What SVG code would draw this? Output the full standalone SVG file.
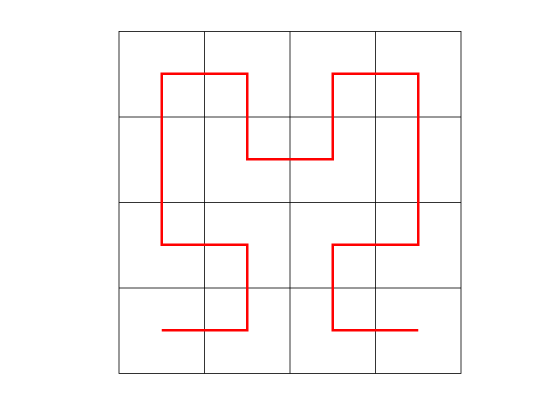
<svg xmlns="http://www.w3.org/2000/svg" width="560" height="420" viewBox="0 0 560 420">
<style>
.grid{stroke:#000;stroke-width:0.8;fill:none}
.curve{stroke:#ff0000;stroke-width:2.5;fill:none;stroke-linejoin:miter}
</style>
<rect width="560" height="420" fill="#fff"/>
<g id="grid">
<rect class="grid" x="119" y="31.5" width="342" height="342"/>
<path class="grid" d="M204.5 31.5V373.5M290 31.5V373.5M375.5 31.5V373.5M119 117H461M119 202.5H461M119 288H461"/>
</g>
<g id="connectors">
<path class="curve" d="M161.75 330.25H247.25V244.75H161.75V73.75H247.25V159.25H332.75V73.75H418.25V244.75H332.75V330.25H418.25"/>
</g>
</svg>
